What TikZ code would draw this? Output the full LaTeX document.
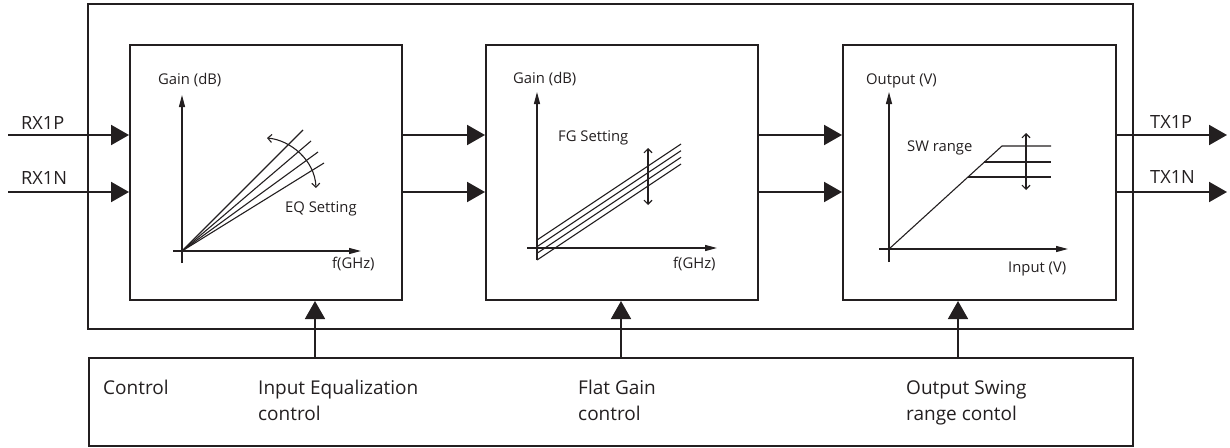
\documentclass[tikz,border=0pt]{standalone}
\usepackage{fontspec}
\setmainfont{Open Sans}
\usetikzlibrary{arrows.meta}
\definecolor{ink}{HTML}{231F20}
\tikzset{
  x=1pt,y=-1pt,
  box/.style={draw=ink,line width=2pt,minimum height=255pt,inner sep=0pt},
  bigarrow/.style={draw=ink,line width=2pt,-{Triangle[length=18pt,width=20pt]}},
  ctlline/.style={draw=ink,line width=1.7pt,-{Triangle[length=18pt,width=20pt]}},
  axis/.style={draw=ink,line width=1.3pt,-{Triangle[length=12pt,width=6pt]}},
  curve/.style={draw=ink,line width=1.1pt},
  setarrow/.style={draw=ink,line width=1.1pt,{Straight Barb[length=4pt,width=8pt]}-{Straight Barb[length=4pt,width=8pt]}},
  pin/.style={font=\fontsize{18.2}{20}\selectfont,text=ink,inner sep=0pt,anchor=base west},
  glabel/.style={font=\fontsize{14.8}{16}\selectfont,text=ink,inner sep=0pt,anchor=base west},
  clabel/.style={font=\fontsize{19}{26}\selectfont,text=ink,inner sep=0pt,anchor=base west,align=left},
}
\begin{document}
\begin{tikzpicture}
\useasboundingbox (0,0) rectangle (1230,447);
% outer and control boxes
\node[draw=ink,line width=2pt,minimum width=1045pt,minimum height=325pt,inner sep=0pt] (outer) at (610.5,166.5) {};
\node[draw=ink,line width=1.6pt,minimum width=1044pt,minimum height=88pt,inner sep=0pt] (ctrl) at (611,402) {};
% blocks
\node[box,minimum width=272pt] (b1) at (266,172.5) {};
\node[box,minimum width=272pt] (b2) at (622,172.5) {};
\node[box,minimum width=273pt] (b3) at (979.5,172.5) {};
% terminals
\coordinate (in1) at (8,135);
\coordinate (in2) at (8,192);
\coordinate (out1) at (1227,135);
\coordinate (out2) at (1227,192);
\draw[bigarrow] (in1) -- (in1 -| b1.west);
\draw[bigarrow] (in2) -- (in2 -| b1.west);
\draw[bigarrow] (b1.east |- in1) -- (b2.west |- in1);
\draw[bigarrow] (b1.east |- in2) -- (b2.west |- in2);
\draw[bigarrow] (b2.east |- in1) -- (b3.west |- in1);
\draw[bigarrow] (b2.east |- in2) -- (b3.west |- in2);
\draw[bigarrow] (b3.east |- in1) -- (out1);
\draw[bigarrow] (b3.east |- in2) -- (out2);
\node[pin] (rxp) at (21,129) {RX1P};
\node[pin] (rxn) at (21,184) {RX1N};
\node[pin] (txp) at (1150,128) {TX1P};
\node[pin] (txn) at (1150,183) {TX1N};
% control lines
\coordinate (k1) at (315,0);
\coordinate (k2) at (621,0);
\coordinate (k3) at (958,0);
\draw[ctlline] (ctrl.north -| k1) -- (b1.south -| k1);
\draw[ctlline] (ctrl.north -| k2) -- (b2.south -| k2);
\draw[ctlline] (ctrl.north -| k3) -- (b3.south -| k3);
\node[clabel] (lc) at (103,394) {Control};
\node[clabel] (l1) at (258,420) {Input Equalization\\control};
\node[clabel] (l2) at (578,420) {Flat Gain\\control};
\node[clabel] (l3) at (906,420) {Output Swing\\range contol};
% graph 1
\coordinate (o1) at (182,251);
\draw[axis] (182,263) -- (182,95);
\draw[axis] (173,251) -- (361,251);
\node[glabel] (g1y) at (158,84) {Gain (dB)};
\node[glabel] (g1x) at (332,268) {f(GHz)};
\node[glabel] (g1s) at (285,212) {EQ Setting};
\draw[curve] (o1) -- (303,130);
\draw[curve] (o1) -- (311,141);
\draw[curve] (o1) -- (318,152);
\draw[curve] (o1) -- (324,163);
\draw[setarrow] (267,138) .. controls (290,140) and (315,160) .. (316,188);
% graph 2
\draw[axis] (537,260) -- (537,92);
\draw[axis] (527,248) -- (717,248);
\node[glabel] (g2y) at (513,83) {Gain (dB)};
\node[glabel] (g2x) at (673,268) {f(GHz)};
\node[glabel] (g2s) at (558,141) {FG Setting};
\draw[curve] (537,240) -- (681,144);
\draw[curve] (537,246.7) -- (681,150.7);
\draw[curve] (537,253.3) -- (681,157.3);
\draw[curve] (537,260) -- (681,164);
\draw[setarrow] (648,148) -- (648,205);
% graph 3
\draw[axis] (889,262) -- (889,92);
\draw[axis] (879,249) -- (1068,249);
\node[glabel] (g3y) at (866,84) {Output (V)};
\node[glabel] (g3x) at (1008,272) {Input (V)};
\node[glabel] (g3s) at (907,151) {SW range};
\draw[curve] (889,249) -- (1002,146) -- (1051,146);
\draw[curve] (984,162) -- (1051,162);
\draw[curve] (968,177) -- (1051,177);
\draw[setarrow] (1026,133) -- (1026,190);
\end{tikzpicture}
\end{document}
